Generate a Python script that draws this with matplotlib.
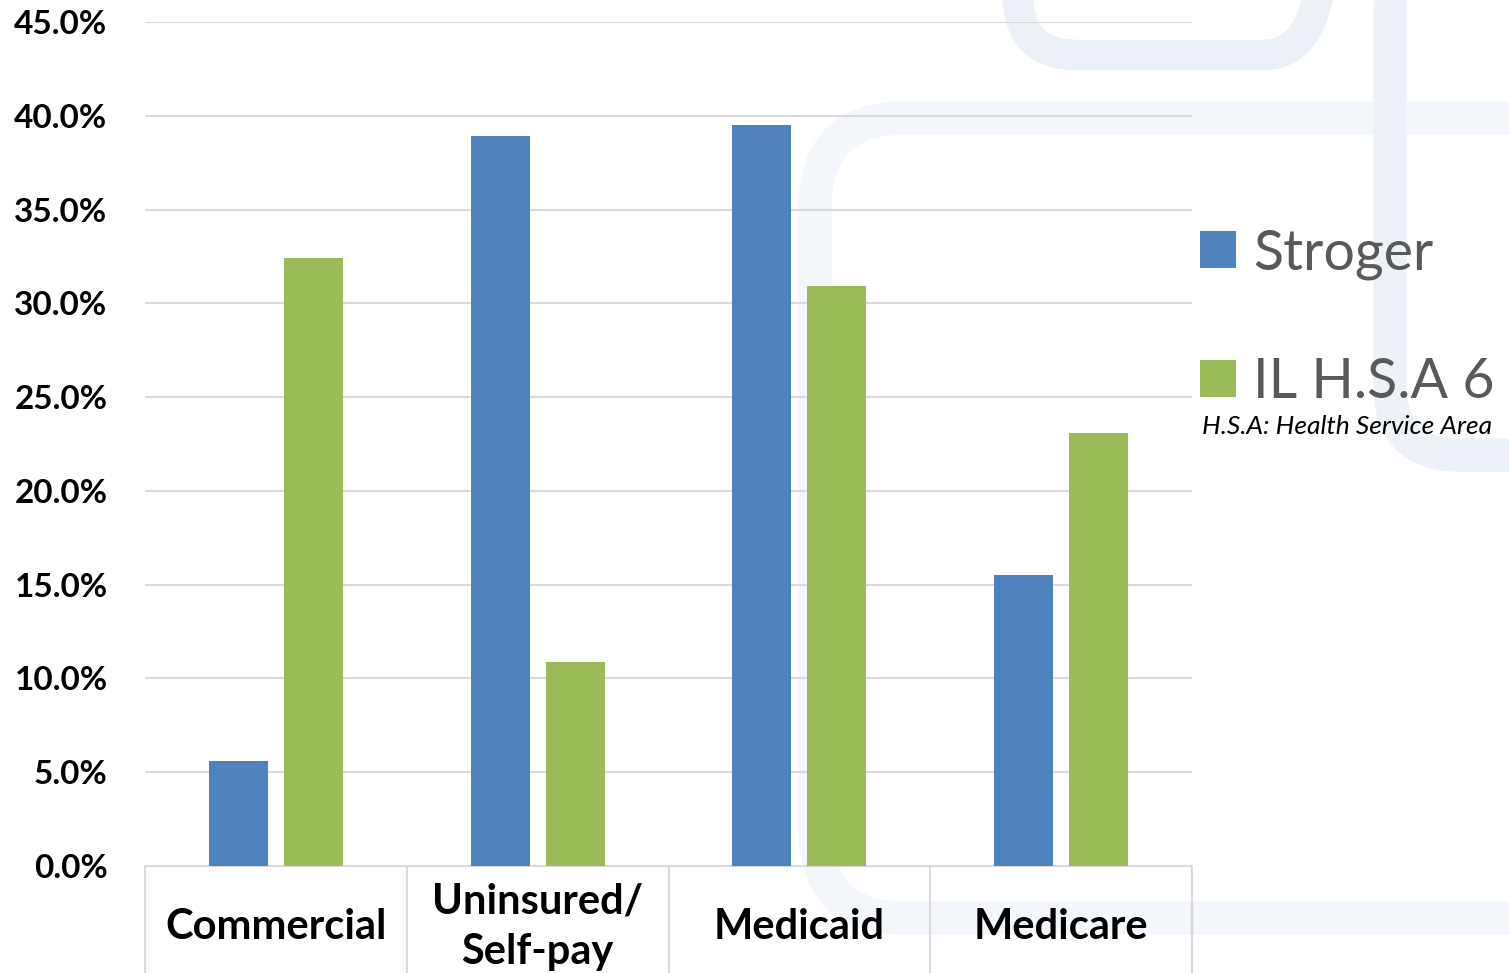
import matplotlib.pyplot as plt
import numpy as np
from matplotlib.patches import FancyBboxPatch

# Data (percent)
categories = ['Commercial', 'Uninsured/\nSelf-pay', 'Medicaid', 'Medicare']
stroger = [5.6, 38.9, 39.5, 15.5]
il_hsa6 = [32.4, 10.9, 30.9, 23.1]
y_ticks = [0, 5, 10, 15, 20, 25, 30, 35, 40, 45]

blue = '#4F81BD'
green = '#9BBB59'
grid_col = '#D9D9D9'

plt.rcParams['font.family'] = ['Lato', 'DejaVu Sans']

fig = plt.figure(figsize=(15.09, 9.73), dpi=100)

# faint watermark shapes behind the chart
bg = fig.add_axes([0, 0, 1, 1], zorder=-1)
bg.set_xlim(0, 1509)
bg.set_ylim(973, 0)
bg.axis('off')
bg.add_patch(FancyBboxPatch((1018, -120), 305, 175, boxstyle='round,pad=0,rounding_size=60',
                            fill=False, ec='#EBF1F7', lw=22))
bg.add_patch(FancyBboxPatch((815, 118), 800, 800, boxstyle='round,pad=0,rounding_size=90',
                            fill=False, ec='#F3F7FB', lw=24))
bg.add_patch(FancyBboxPatch((1390, -60), 300, 515, boxstyle='round,pad=0,rounding_size=70',
                            fill=False, ec='#EDF2F8', lw=24))

ax = fig.add_axes([145/1509, 1-866/973, (1192-145)/1509, (866-22)/973])
ax.set_facecolor('none')

x = np.arange(len(categories))
w = 0.225
off = 0.143
ax.bar(x - off, stroger, w, color=blue, label='Stroger', zorder=3)
ax.bar(x + off, il_hsa6, w, color=green, label='IL H.S.A 6', zorder=3)

ax.set_xlim(-0.5, len(categories) - 0.5)
ax.set_ylim(0, 45)
ax.set_yticks(y_ticks)
ax.set_yticklabels([f'{v:.1f}%' for v in y_ticks], fontsize=24, fontweight='bold')
ax.tick_params(axis='y', length=0, pad=27)
ax.yaxis.grid(True, color=grid_col, linewidth=1.5, zorder=0)
ax.set_axisbelow(True)

for s in ['top', 'right', 'left']:
    ax.spines[s].set_visible(False)
ax.spines['bottom'].set_color(grid_col)
ax.spines['bottom'].set_linewidth(1.5)

# category labels and the Excel-style separators below the axis
ax.set_xticks([])
for i, c in enumerate(categories):
    ax.text(i, -0.072, c, transform=ax.get_xaxis_transform(), ha='center', va='center',
            fontsize=30, fontweight='bold', linespacing=1.4)
for b in np.arange(-0.5, len(categories), 1.0):
    ax.plot([b, b], [0, -0.14], transform=ax.get_xaxis_transform(), color=grid_col,
            lw=1.5, clip_on=False)

leg = fig.legend(loc='upper left', bbox_to_anchor=(1200/1509, 1-228/973),
                 bbox_transform=fig.transFigure, frameon=False, fontsize=40,
                 handlelength=0.65, handleheight=0.65, handletextpad=0.31,
                 labelspacing=1.4, borderaxespad=0, borderpad=0)
for t in leg.get_texts():
    t.set_color('#595959')

fig.text(1202/1509, 1-426/973, 'H.S.A: Health Service Area', fontsize=19, style='italic',
         ha='left', va='center')

fig.savefig('out.png', dpi=100)
